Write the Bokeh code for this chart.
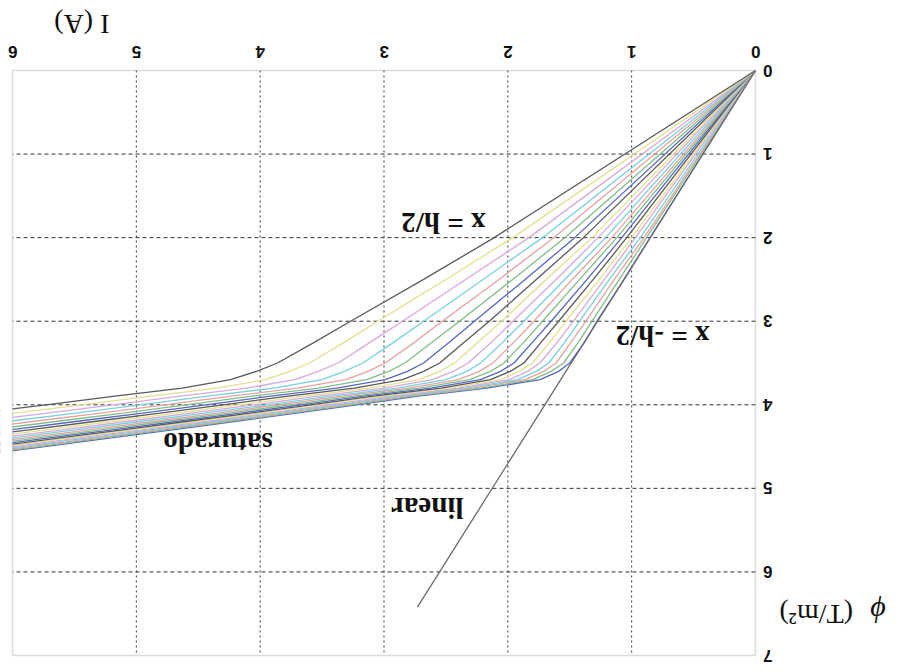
import math
from bokeh.plotting import figure
from bokeh.models import Range1d, FixedTicker, Label, BoxAnnotation
from bokeh.embed import file_html
from bokeh.resources import INLINE

# Flux levels (T/m^2) at which each curve's current is tabulated
phi_levels = [0, 2.0, 2.5, 3.0, 3.25, 3.5, 3.6, 3.7, 3.8, 3.9, 4.0, 4.1, 4.2, 4.3, 4.4, 4.5, 4.6]

# Current I (A) for each position across the tooth, from x = -h/2 (00) to x = h/2 (20)
i_curve_00 = [0, 0.85, 1.06, 1.28, 1.38, 1.50, 1.59, 1.74, 2.17, 2.74, 3.22, 3.71, 4.21, 4.71, 5.22, 5.74, 6.26]
i_curve_01 = [0, 0.88, 1.10, 1.32, 1.43, 1.55, 1.65, 1.80, 2.22, 2.79, 3.27, 3.76, 4.26, 4.77, 5.28, 5.79, 6.32]
i_curve_02 = [0, 0.90, 1.14, 1.37, 1.49, 1.61, 1.71, 1.86, 2.28, 2.85, 3.33, 3.82, 4.32, 4.83, 5.34, 5.86, 6.38]
i_curve_03 = [0, 0.93, 1.18, 1.42, 1.54, 1.67, 1.77, 1.92, 2.34, 2.90, 3.39, 3.88, 4.38, 4.89, 5.41, 5.92, 6.45]
i_curve_04 = [0, 0.97, 1.22, 1.47, 1.60, 1.74, 1.84, 1.99, 2.40, 2.96, 3.45, 3.94, 4.45, 4.96, 5.48, 5.99, 6.52]
i_curve_05 = [0, 1.00, 1.26, 1.53, 1.66, 1.80, 1.91, 2.06, 2.47, 3.03, 3.52, 4.01, 4.52, 5.03, 5.55, 6.07]
i_curve_06 = [0, 1.04, 1.31, 1.59, 1.73, 1.87, 1.98, 2.14, 2.54, 3.10, 3.59, 4.08, 4.60, 5.11, 5.63, 6.15]
i_curve_07 = [0, 1.08, 1.36, 1.65, 1.80, 1.95, 2.06, 2.22, 2.62, 3.18, 3.67, 4.16, 4.68, 5.19, 5.72, 6.24]
i_curve_08 = [0, 1.12, 1.42, 1.72, 1.87, 2.03, 2.14, 2.31, 2.71, 3.26, 3.76, 4.25, 4.77, 5.28, 5.81, 6.33]
i_curve_09 = [0, 1.16, 1.48, 1.79, 1.95, 2.12, 2.23, 2.40, 2.80, 3.35, 3.85, 4.34, 4.86, 5.38, 5.91, 6.44]
i_curve_10 = [0, 1.21, 1.54, 1.87, 2.04, 2.22, 2.33, 2.50, 2.89, 3.44, 3.94, 4.45, 4.97, 5.49, 6.02]
i_curve_11 = [0, 1.27, 1.61, 1.96, 2.13, 2.32, 2.44, 2.61, 3.00, 3.55, 4.05, 4.56, 5.08, 5.60, 6.14]
i_curve_12 = [0, 1.32, 1.69, 2.05, 2.24, 2.43, 2.55, 2.72, 3.12, 3.66, 4.17, 4.68, 5.20, 5.73, 6.26]
i_curve_13 = [0, 1.39, 1.77, 2.15, 2.35, 2.55, 2.68, 2.85, 3.24, 3.79, 4.30, 4.81, 5.34, 5.87, 6.41]
i_curve_14 = [0, 1.46, 1.86, 2.27, 2.47, 2.68, 2.81, 2.99, 3.38, 3.93, 4.44, 4.95, 5.49, 6.02]
i_curve_15 = [0, 1.54, 1.96, 2.39, 2.61, 2.83, 2.96, 3.14, 3.53, 4.08, 4.60, 5.11, 5.65, 6.19]
i_curve_16 = [0, 1.63, 2.07, 2.53, 2.75, 2.99, 3.13, 3.31, 3.70, 4.25, 4.77, 5.29, 5.84, 6.38]
i_curve_17 = [0, 1.72, 2.20, 2.68, 2.92, 3.17, 3.32, 3.50, 3.89, 4.44, 4.97, 5.49, 6.04]
i_curve_18 = [0, 1.83, 2.34, 2.85, 3.11, 3.37, 3.53, 3.72, 4.11, 4.66, 5.19, 5.72, 6.27]
i_curve_19 = [0, 1.96, 2.50, 3.05, 3.32, 3.60, 3.76, 3.96, 4.35, 4.90, 5.44, 5.98, 6.54]
i_curve_20 = [0, 2.11, 2.68, 3.27, 3.56, 3.86, 4.03, 4.24, 4.63, 5.19, 5.73, 6.28]

# Unsaturated (linear) characteristic
linear_i = [0, 2.73]
linear_phi = [0, 6.42]

x_ticks = [0, 1, 2, 3, 4, 5, 6]
y_ticks = [0, 1, 2, 3, 4, 5, 6, 7]

curves = [i_curve_00, i_curve_01, i_curve_02, i_curve_03, i_curve_04, i_curve_05,
          i_curve_06, i_curve_07, i_curve_08, i_curve_09, i_curve_10, i_curve_11,
          i_curve_12, i_curve_13, i_curve_14, i_curve_15, i_curve_16, i_curve_17,
          i_curve_18, i_curve_19, i_curve_20]

# colour cycle b, g, r, c, m, y, k (washed out)
palette = ["#5566c4", "#7fbf86", "#e9a0a0", "#74d2e2", "#d8a8dc", "#e4e08c", "#5a5a5a"]

i_lo, i_hi = x_ticks[0], x_ticks[-1]
phi_lo, phi_hi = y_ticks[0], y_ticks[-1]

# The frame fills the whole canvas, wider than the axes box, so that tick
# labels and axis titles outside the box are not clipped; the axes are
# pinned to the I = 0 and phi = 0 edges of the box.
x_start, x_end = 6.0969, -1.171
y_start, y_end = 7.2034, -0.8376
p = figure(width=900, height=672,
           x_range=Range1d(x_start, x_end), y_range=Range1d(y_start, y_end),
           x_axis_location="above", y_axis_location="right",
           output_backend="svg", toolbar_location=None,
           min_border_left=0, min_border_right=0,
           min_border_top=0, min_border_bottom=0)

# the upside-down tick labels hang to one side of their anchor; this range
# nudges the I labels so they sit centred over their grid lines
label_shift = 0.04
p.extra_x_ranges = {"ticklabels": Range1d(x_start + label_shift, x_end + label_shift)}

p.background_fill_color = "white"
p.border_fill_color = "white"
p.outline_line_color = None
p.xgrid.visible = False
p.ygrid.visible = False

p.xaxis.ticker = FixedTicker(ticks=x_ticks)
p.yaxis.ticker = FixedTicker(ticks=y_ticks)
p.xaxis.x_range_name = "ticklabels"
p.xaxis.fixed_location = phi_lo
p.yaxis.fixed_location = i_lo
for ax in (p.xaxis[0], p.yaxis[0]):
    ax.major_label_orientation = math.pi
    ax.axis_line_color = None
    ax.major_tick_line_color = None
    ax.minor_tick_line_color = None
    ax.major_tick_in = 0
    ax.major_tick_out = 0
    ax.minor_tick_in = 0
    ax.minor_tick_out = 0
    ax.major_label_text_font = "Liberation Sans"
    ax.major_label_text_font_style = "bold"
    ax.major_label_text_font_size = "17px"
    ax.major_label_text_color = "#111111"
p.xaxis[0].major_label_standoff = 19
p.yaxis[0].major_label_standoff = 17

# dashed grid inside the axes box
inner_x = x_ticks[1:-1]
inner_y = y_ticks[1:-1]
p.segment(x0=inner_x, x1=inner_x, y0=[phi_lo] * len(inner_x), y1=[phi_hi] * len(inner_x),
          line_color="#333333", line_dash="2 3", line_width=1)
p.segment(x0=[i_lo] * len(inner_y), x1=[i_hi] * len(inner_y), y0=inner_y, y1=inner_y,
          line_color="#333333", line_dash="4 3", line_width=1)

for k, cur in enumerate(curves):
    p.line(cur, phi_levels[:len(cur)], line_color=palette[k % 7], line_width=1.3)

p.line(linear_i, linear_phi, line_color="#6a6a6a", line_width=1.3)

# white strip over the curve ends that run past I = 6 (reaches beyond the
# frame edge), then the axes box on top
p.quad(left=[i_hi], right=[x_start + 1.0], top=[phi_lo], bottom=[y_start + 1.0],
       fill_color="white", line_color=None)
p.add_layout(BoxAnnotation(left=i_lo, right=i_hi, top=phi_lo, bottom=phi_hi,
                           fill_alpha=0, line_color="#8a8a8a", line_width=1.5))


def note(x, y, txt, size="29px", style="bold"):
    p.add_layout(Label(x=x, y=y, text=txt, angle=math.pi,
                       text_align="center", text_baseline="middle",
                       text_font="Liberation Serif", text_font_style=style,
                       text_font_size=size, text_color="#111111"))


note(2.52, 1.82, "x = h/2")
note(0.75, 3.18, "x = -h/2")
note(2.65, 5.23, "linear")
note(4.34, 4.46, "saturado")

# axis titles
note(5.44, -0.55, "I (A)", size="28px", style="normal")
note(-0.49, 6.51, "(T/m²)", size="28px", style="normal")
note(-0.99, 6.49, "ϕ", size="30px", style="italic")

open("out.html", "w").write(file_html(p, INLINE))
